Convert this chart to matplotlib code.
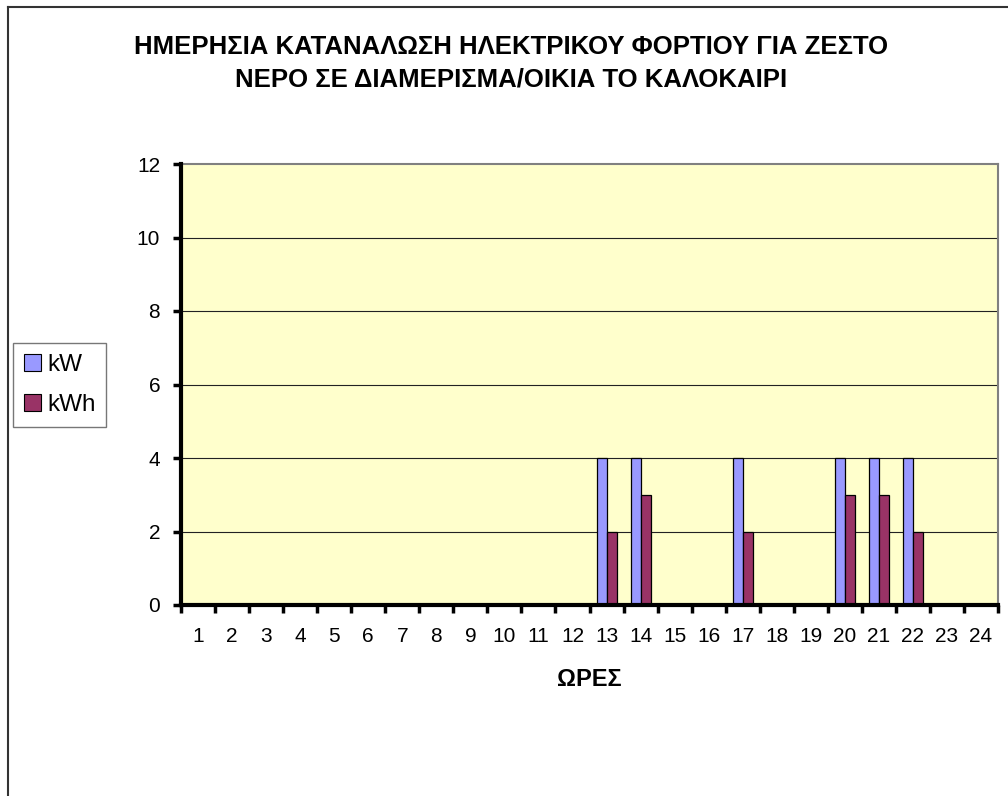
import matplotlib
matplotlib.use("Agg")
import matplotlib.pyplot as plt
from matplotlib.lines import Line2D
from matplotlib.patches import Patch
import numpy as np

plt.rcParams['font.family'] = ['Liberation Sans', 'DejaVu Sans']

hours = list(range(1, 25))
kw_hours = [13, 14, 17, 20, 21, 22]
kw_vals = [4, 4, 4, 4, 4, 4]
kwh_vals = [2, 3, 2, 3, 3, 2]
title = "ΗΜΕΡΗΣΙΑ ΚΑΤΑΝΑΛΩΣΗ ΗΛΕΚΤΡΙΚΟΥ ΦΟΡΤΙΟΥ ΓΙΑ ΖΕΣΤΟ\nΝΕΡΟ ΣΕ ΔΙΑΜΕΡΙΣΜΑ/ΟΙΚΙΑ ΤΟ ΚΑΛΟΚΑΙΡΙ"
xlabel = "ΩΡΕΣ"
series_names = ["kW", "kWh"]

kw = np.zeros(len(hours))
kwh = np.zeros(len(hours))
for h, a, b in zip(kw_hours, kw_vals, kwh_vals):
    kw[h - 1] = a
    kwh[h - 1] = b

W, H = 1008, 796
fig = plt.figure(figsize=(W / 100, H / 100), dpi=100)
fig.patch.set_facecolor('white')

L, R, T, B = 181, 998, 164, 605
ax = fig.add_axes([L / W, 1 - B / H, (R - L) / W, (B - T) / H])
ax.set_facecolor('#FFFFCC')

x = np.array(hours, dtype=float)
bw = 10 / 34
c_kw, c_kwh = '#9999FF', '#993366'
ax.bar(x - bw / 2, kw, width=bw, color=c_kw, edgecolor='black', linewidth=0.9, zorder=3)
ax.bar(x + bw / 2, kwh, width=bw, color=c_kwh, edgecolor='black', linewidth=0.9, zorder=3)

ax.set_xlim(0.5, 24.5)
ax.set_ylim(0, 12)

ax.set_yticks(range(0, 13, 2))
ax.tick_params(axis='y', direction='out', length=6, width=2.5, labelsize=15, pad=9, colors='black')
for yv in range(2, 12, 2):
    ax.axhline(yv, color='#222222', linewidth=0.8, zorder=1)

ax.set_xticks(np.arange(0.5, 25, 1))
ax.set_xticklabels([])
ax.tick_params(axis='x', which='major', direction='out', length=6, width=2.5)
ax.set_xticks(x, minor=True)
ax.set_xticklabels([str(h) for h in hours], minor=True)
ax.tick_params(axis='x', which='minor', length=0, labelsize=15, pad=16)

for s in ['left', 'bottom']:
    ax.spines[s].set_color('black')
    ax.spines[s].set_linewidth(3)
    ax.spines[s].set_zorder(5)
for s in ['top', 'right']:
    ax.spines[s].set_color('#808080')
    ax.spines[s].set_linewidth(1.5)

fig.text((L + R) / 2 / W, 1 - 680 / H, xlabel, ha='center', va='center',
         fontsize=17, fontweight='bold')

fig.text(511 / W, 1 - 63 / H, title, ha='center', va='center', fontsize=18.5,
         fontweight='bold', linespacing=1.45)

handles = [Patch(facecolor=c_kw, edgecolor='black', linewidth=0.8),
           Patch(facecolor=c_kwh, edgecolor='black', linewidth=0.8)]
leg = fig.legend(handles, series_names, loc='center left',
                 bbox_to_anchor=(13 / W, 1 - 385 / H), fontsize=17.5,
                 frameon=True, fancybox=False, edgecolor='#555555',
                 handlelength=0.7, handleheight=0.7, handletextpad=0.25,
                 borderpad=0.45, labelspacing=0.75, borderaxespad=0)
leg.get_frame().set_linewidth(1.0)

fig.add_artist(Line2D([8 / W, 1], [1 - 7 / H, 1 - 7 / H], transform=fig.transFigure,
                      color='#333333', linewidth=1.5))
fig.add_artist(Line2D([8 / W, 8 / W], [0, 1 - 7 / H], transform=fig.transFigure,
                      color='#333333', linewidth=1.5))

fig.savefig('out.png', dpi=100, facecolor='white')
